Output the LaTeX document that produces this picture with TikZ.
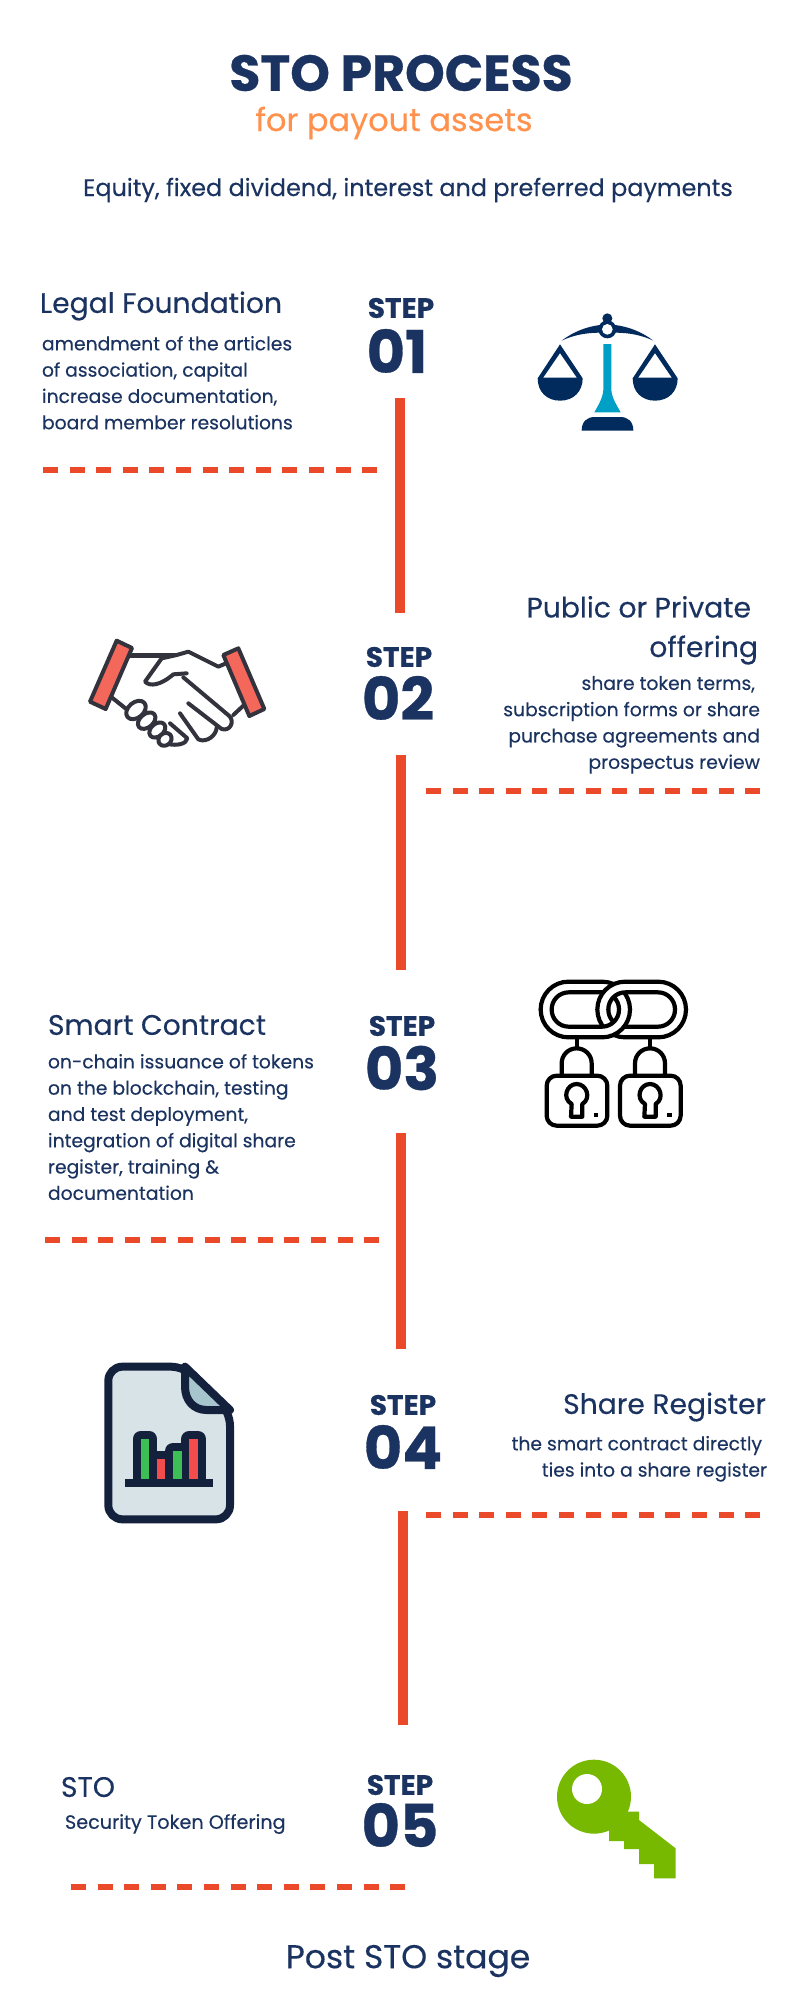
\documentclass[tikz,border=0pt]{standalone}
\usepackage{fontspec}
\setmainfont{Poppins}
\newcommand{\medw}{\addfontfeature{FakeBold=0.25}}
\newcommand{\hvy}{\bfseries\addfontfeature{FakeBold=0.5}}
\definecolor{navy}{HTML}{1B3360}
\definecolor{orangeT}{HTML}{FF914D}
\definecolor{redL}{HTML}{EA4A2A}
\definecolor{scaleN}{HTML}{002B5C}
\definecolor{teal}{HTML}{00A0C6}
\definecolor{hand}{HTML}{33333D}
\definecolor{cuff}{HTML}{F4685C}
\definecolor{docN}{HTML}{14213D}
\definecolor{docF}{HTML}{D8E3E8}
\definecolor{docT}{HTML}{A6C5CD}
\definecolor{barG}{HTML}{3DBF55}
\definecolor{barR}{HTML}{F24C4C}
\definecolor{keyG}{HTML}{76B900}
\tikzset{
  txt/.style={text=navy,inner sep=0pt,outer sep=0pt},
  headT/.style={txt,font=\fontsize{28.2}{39.5}\selectfont\medw},
  bodyT/.style={txt,font=\fontsize{18.75}{26.3}\selectfont\medw},
  stepT/.style={txt,font=\fontsize{28}{30}\selectfont\hvy},
  numT/.style={txt,font=\fontsize{59}{60}\selectfont\hvy},
  dashL/.style={redL,line width=6pt,dash pattern=on 15pt off 11.6pt},
  vertL/.style={redL,line width=10pt},
}
\newcommand{\linkL}{[rounded corners=27.8pt] (62,65) rectangle (330,232) [rounded corners=17pt] (95,97) rectangle (297,200)}
\newcommand{\linkR}{[rounded corners=27.8pt] (232,65) rectangle (498,232) [rounded corners=17pt] (265,97) rectangle (465,200)}
\begin{document}
\begin{tikzpicture}[x=1pt,y=-1pt]
\useasboundingbox (0,0) rectangle (800,2000);
\fill[white] (0,0) rectangle (800,2000);
% titles
\node[txt,font=\fontsize{50.5}{54}\selectfont\hvy] (title) at (401,73) {STO PROCESS};
\node[txt,text=orangeT,font=\fontsize{32}{36}\selectfont\medw] (subtitle) at (394,123) {for payout assets};
\node[txt,font=\fontsize{23.9}{28}\selectfont\medw] (intro) at (408,190) {Equity, fixed dividend, interest and preferred payments};
% steps
\node[stepT] (s1) at (401,308) {STEP};
\node[numT] (n1) at (397,351) {01};
\node[stepT] (s2) at (399,657) {STEP};
\node[numT] (n2) at (398,698) {02};
\node[stepT] (s3) at (402,1026) {STEP};
\node[numT] (n3) at (402,1068) {03};
\node[stepT] (s4) at (403,1405) {STEP};
\node[numT] (n4) at (403,1447) {04};
\node[stepT] (s5) at (400,1785) {STEP};
\node[numT] (n5) at (400,1825) {05};
% text blocks
\node[headT,anchor=west] (h1) at (40,306) {Legal Foundation};
\node[bodyT,anchor=north west,align=left] (b1) at (42,336) {amendment of the articles\\of association, capital\\increase documentation,\\board member resolutions};
\node[headT,anchor=north east,align=right] (h2) at (758,596) {Public or Private\hspace*{7pt}\\offering};
\node[bodyT,anchor=north east,align=right] (b2) at (760,676) {share token terms,\hspace*{5pt}\\subscription forms or share\hspace*{6pt}\\purchase agreements and\hspace*{6pt}\\prospectus review};
\node[headT,anchor=west] (h3) at (48,1025) {Smart Contract};
\node[bodyT,anchor=north west,align=left] (b3) at (48,1054) {on-chain issuance of tokens\\on the blockchain, testing\\and test deployment,\\integration of digital share\\register, training \&\\documentation};
\node[headT,anchor=east] (h4) at (766,1407) {Share Register};
\node[bodyT,anchor=north east,align=right] (b4) at (767,1436) {the smart contract directly\hspace*{5pt}\\ties into a share register};
\node[headT,anchor=west] (h5) at (61,1787) {STO};
\node[txt,font=\fontsize{19.2}{26}\selectfont\medw,anchor=west] (b5) at (65,1824) {Security Token Offering};
\node[txt,font=\fontsize{33}{36}\selectfont\medw] (post) at (408,1961) {Post STO stage};
% connectors
\coordinate (v1a) at (400,398); \coordinate (v1b) at (400,613);
\coordinate (v2a) at (401,755); \coordinate (v2b) at (401,970);
\coordinate (v3a) at (401,1133); \coordinate (v3b) at (401,1349);
\coordinate (v4a) at (403,1511); \coordinate (v4b) at (403,1725);
\draw[vertL] (v1a) -- (v1b);
\draw[vertL] (v2a) -- (v2b);
\draw[vertL] (v3a) -- (v3b);
\draw[vertL] (v4a) -- (v4b);
\coordinate (d1a) at (43,470); \coordinate (d1b) at (377,470);
\coordinate (d2a) at (426,791); \coordinate (d2b) at (760,791);
\coordinate (d3a) at (45,1240); \coordinate (d3b) at (379,1240);
\coordinate (d4a) at (426,1515); \coordinate (d4b) at (760,1515);
\coordinate (d5a) at (71,1887); \coordinate (d5b) at (405,1887);
\draw[dashL] (d1a) -- (d1b);
\draw[dashL] (d2a) -- (d2b);
\draw[dashL] (d3a) -- (d3b);
\draw[dashL] (d4a) -- (d4b);
\draw[dashL] (d5a) -- (d5b);
% scales
\begin{scope}[shift={(500,290)},scale=1/3]
\fill[scaleN] (185,152) .. controls (220,125) and (260,110) .. (300,105) -- (345,105) .. controls (385,110) and (425,125) .. (460,152) .. controls (425,135) and (385,128) .. (345,128) -- (300,128) .. controls (260,128) and (220,135) .. (185,152) -- cycle;
\fill[scaleN] (322,85) circle[radius=15];
\fill[scaleN] (322,118) circle[radius=27];
\fill[white] (322,118) circle[radius=16];
\fill[teal] (310,162) -- (334,162) -- (334,300) .. controls (336,325) and (350,345) .. (362,367) -- (283,367) .. controls (295,345) and (308,325) .. (310,300) -- cycle;
\fill[scaleN] (245,422) .. controls (245,395) and (260,381) .. (285,381) -- (360,381) .. controls (385,381) and (400,395) .. (400,422) -- cycle;
\foreach \dx in {0,285}{
\begin{scope}[xshift=\dx]
\fill[scaleN] (180,163) -- (113,265) .. controls (113,305) and (140,332) .. (180,332) .. controls (220,332) and (248,305) .. (248,265) -- cycle;
\fill[white] (180,190) -- (130,263) -- (230,263) -- cycle;
\end{scope}}
\end{scope}
% handshake
\begin{scope}[shift={(70,620)},scale=1/3,draw=hand,line width=4pt,line join=round,line cap=round]
\draw[line width=4.6pt] (180,107) -- (320,107);
\fill[white] (320,105) -- (355,95) -- (445,140) -- (490,285) -- (300,372) -- (170,268) -- (225,185) -- cycle;
\draw (320,105) -- (355,95) -- (445,140) -- (468,130);
\draw (320,105) -- (275,115) -- (225,185) .. controls (240,200) and (270,197) .. (310,163) -- (350,160);
\draw (340,172) -- (478,288) .. controls (495,305) and (480,335) .. (455,327) -- (355,250);
\draw (440,322) .. controls (440,345) and (410,370) .. (385,358) -- (330,280);
\draw (300,310) -- (352,355) .. controls (350,372) and (320,378) .. (295,372);
\draw (490,285) -- (520,257);
\draw (125,232) -- (170,268);
\draw[fill=white] (198,270) ellipse[x radius=33,y radius=23,rotate=40];
\draw[fill=white] (230,302) ellipse[x radius=30,y radius=20,rotate=40];
\draw[fill=white] (262,330) ellipse[x radius=27,y radius=19,rotate=40];
\draw[fill=white] (285,358) ellipse[x radius=21,y radius=18,rotate=40];
\draw[fill=cuff] (140,62) -- (186,84) -- (107,267) -- (60,245) -- cycle;
\draw[fill=cuff] (460,105) -- (505,85) -- (583,267) -- (538,288) -- cycle;
\end{scope}
% chain and locks
\begin{scope}[shift={(520,960)},scale=1/3,line width=4.2pt,black,line join=round]
\begin{scope}
\clip (0,148) rectangle (560,260);
\draw[fill=white,even odd rule] \linkR;
\draw[fill=white,even odd rule] \linkL;
\end{scope}
\begin{scope}
\clip (0,40) rectangle (560,148);
\draw[fill=white,even odd rule] \linkL;
\draw[fill=white,even odd rule] \linkR;
\end{scope}
\foreach \dx in {0,220}{
\begin{scope}[xshift=\dx]
\draw (170,236) -- (170,265);
\draw (125,347) -- (125,310) .. controls (125,285) and (145,265) .. (170,265) .. controls (195,265) and (215,285) .. (215,310) -- (215,347);
\draw[rounded corners=10pt] (80,347) rectangle (262,497);
\draw (155,432) .. controls (125,415) and (140,372) .. (170,372) .. controls (200,372) and (215,415) .. (187,432) -- (187,470) -- (153,470) -- cycle;
\fill (222,459) rectangle (235,472);
\end{scope}}
\end{scope}
% document
\begin{scope}[shift={(90,1350)},scale=1/3,line join=round]
\draw[docN,fill=docF,line width=8pt,rounded corners=14pt] (55,50) -- (285,50) -- (420,185) -- (420,508) -- (55,508) -- cycle;
\draw[docN,fill=docT,line width=8pt,line join=round] (285,50) -- (285,110) .. controls (285,150) and (310,180) .. (350,180) -- (420,180) -- cycle;
\foreach \xa/\xb/\yt in {152/178/267,200/226/327,249/275/303,298/324/267}{
\draw[docN,line width=16pt,line join=round] (\xa,\yt) rectangle (\xb,388);}
\fill[docN] (104,388) rectangle (370,412);
\fill[barG] (152,267) rectangle (178,388);
\fill[barR] (200,327) rectangle (226,388);
\fill[barG] (249,303) rectangle (275,388);
\fill[barR] (298,267) rectangle (324,388);
\end{scope}
% key
\begin{scope}[shift={(540,1740)},scale=1/3]
\fill[keyG] (162,170) circle[radius=111];
\fill[keyG] (230,200) -- (265,215) -- (297,215) -- (297,240) -- (407,325) -- (407,415) -- (342,415) -- (342,372) -- (297,372) -- (297,327) -- (252,327) -- (252,303) -- (207,303) -- (207,272) -- cycle;
\fill[white] (141,147) circle[radius=45];
\end{scope}
\end{tikzpicture}
\end{document}
